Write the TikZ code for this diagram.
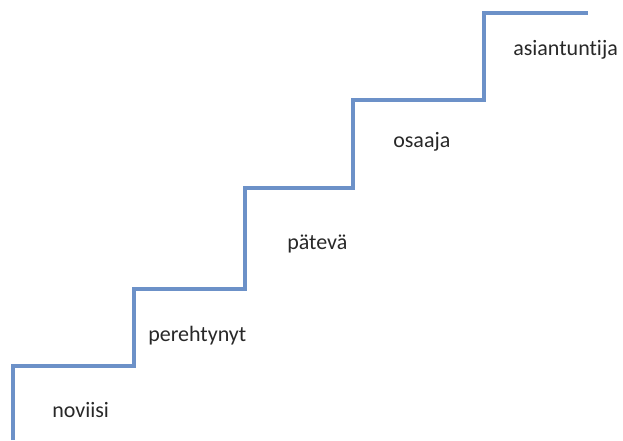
\documentclass[tikz,border=0pt]{standalone}
\usepackage{fontspec}
\setmainfont{Carlito}[Ligatures=NoCommon]
\usepackage{xcolor}
\definecolor{stairblue}{RGB}{108,145,200}
\definecolor{labelgray}{RGB}{40,40,40}

\tikzset{
  stairline/.style={draw=stairblue,line width=2.5pt,line join=miter},
  levellabel/.style={anchor=base west,inner sep=0pt,text=labelgray,font=\fontsize{16.5}{18}\selectfont}
}

\begin{document}
\begin{tikzpicture}[x=0.75pt,y=-0.75pt]
  \useasboundingbox (0,0) rectangle (623,440);
  % portaiden kulmat
  \coordinate (s0) at (13,440);
  \coordinate (s1) at (13,366);
  \coordinate (s2) at (134,366);
  \coordinate (s3) at (134,289);
  \coordinate (s4) at (245,289);
  \coordinate (s5) at (245,188);
  \coordinate (s6) at (353,188);
  \coordinate (s7) at (353,100);
  \coordinate (s8) at (484,100);
  \coordinate (s9) at (484,13);
  \coordinate (s10) at (588,13);
  \draw[stairline] (s0) -- (s1) -- (s2) -- (s3) -- (s4) -- (s5) -- (s6) -- (s7) -- (s8) -- (s9) -- (s10);
  % tasot
  \node[levellabel] (noviisi) at (52,417) {noviisi};
  \node[levellabel] (perehtynyt) at (148,341) {perehtynyt};
  \node[levellabel] (pateva) at (287,249) {pätevä};
  \node[levellabel] (osaaja) at (393,147) {osaaja};
  \node[levellabel] (asiantuntija) at (513,55) {asiantuntija};
\end{tikzpicture}
\end{document}
